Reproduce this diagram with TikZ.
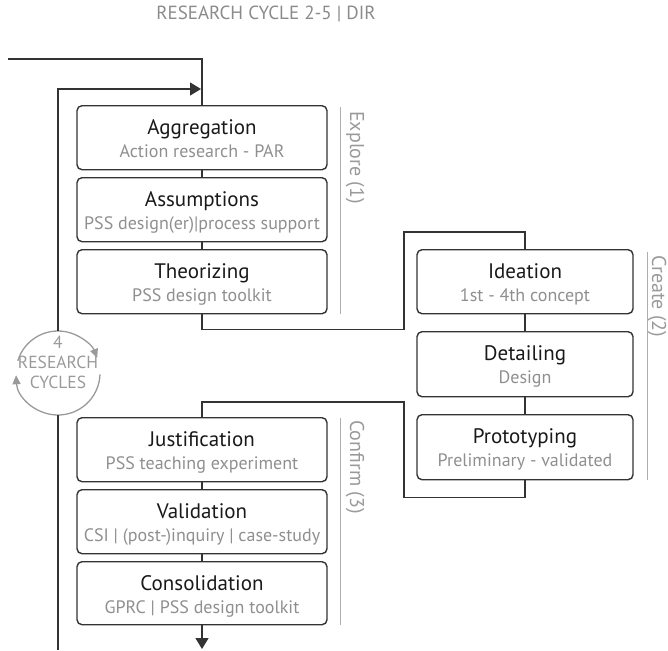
\documentclass[tikz,border=0pt]{standalone}
\usepackage{fontspec}
\setmainfont{PT Sans}
\usetikzlibrary{arrows.meta,calc}
\definecolor{ink}{HTML}{333333}
\definecolor{subgray}{HTML}{8F8F8F}
\definecolor{labgray}{HTML}{9A9A9A}
\newcommand{\mkstage}[7]{% name, x, ytop, height, width, title, subtitle
  \node[stagebox, minimum height=#4pt, minimum width=#5pt, anchor=north] (#1) at (#2,#3) {};
  \node[ttl] (#1t) at ($(#1.north)+(0,29)$) {#6};
  \node[subt] (#1s) at ($(#1.north)+(0,52)$) {#7};
}
\begin{document}
\begin{tikzpicture}[x=1pt,y=-1pt,
  stagebox/.style={draw=ink, line width=1.4pt, rounded corners=5pt, inner sep=0pt},
  ttl/.style={font=\fontsize{21}{24}\selectfont, text=black!90, anchor=base, inner sep=0pt},
  subt/.style={font=\fontsize{18}{20}\selectfont, text=subgray, anchor=base, inner sep=0pt},
  conn/.style={draw=ink, line width=1.4pt},
  arrowed/.style={-{Triangle[length=11pt,width=13pt]}},
  cycarc/.style={draw=labgray, line width=1.3pt, -{Triangle[length=9pt,width=8pt]}},
  phase/.style={font=\fontsize{20}{22}\selectfont, text=labgray, rotate=-90, anchor=west, inner sep=0pt},
  phaseline/.style={draw=labgray!80, line width=1pt}]
\useasboundingbox (0,0) rectangle (668,650);

\node[anchor=base, font=\fontsize{19}{22}\selectfont, text=labgray!90!black, inner sep=0pt] (hdr) at (266,20) {RESEARCH CYCLE 2-5 | DIR};

\mkstage{agg}{202}{105}{64}{250}{Aggregation}{Action research - PAR}
\mkstage{ass}{202}{177}{64}{250}{Assumptions}{PSS design(er)|process support}
\mkstage{theo}{202}{249}{64}{250}{Theorizing}{PSS design toolkit}
\mkstage{idea}{525}{249}{64}{216}{Ideation}{1st - 4th concept}
\mkstage{det}{525}{331}{65}{216}{Detailing}{Design}
\mkstage{proto}{525}{414}{65}{216}{Prototyping}{Preliminary - validated}
\mkstage{just}{202}{417}{64}{250}{Justification}{PSS teaching experiment}
\mkstage{val}{202}{489}{64}{250}{Validation}{CSI | (post-)inquiry | case-study}
\mkstage{cons}{202}{561}{63}{250}{Consolidation}{GPRC | PSS design toolkit}

\draw[conn] (agg.south) -- (ass.north);
\draw[conn] (ass.south) -- (theo.north);
\draw[conn] (idea.south) -- (det.north);
\draw[conn] (det.south) -- (proto.north);
\draw[conn] (just.south) -- (val.north);
\draw[conn] (val.south) -- (cons.north);

\coordinate (k1) at (404,232);
\draw[conn] (theo.south) -- ++(0,15) -| (k1) -| (idea.north);
\coordinate (k2) at (404,402);
\draw[conn] (proto.south) -- ++(0,17) -| (k2) -| (just.north);

\coordinate (k0) at (8,59);
\draw[conn] (k0) -| (agg.north);

\node[circle, minimum size=84pt, inner sep=0pt] (cyc) at (58,373) {};
\node[align=center, text=labgray, font=\fontsize{17.5}{20}\selectfont, inner sep=0pt] (cyct) at (58,362) {4\\RESEARCH\\CYCLES};
\begin{scope}[shift={(cyc.center)}, x=1pt, y=1pt]
  \draw[cycarc] (163:42) arc[start angle=163, end angle=21, radius=42pt];
  \draw[cycarc] (-2:42) arc[start angle=-2, end angle=-177, radius=42pt];
\end{scope}

\coordinate (k3) at (201,89);
\draw[conn, arrowed] (cyc.north) |- (k3);
\coordinate (k4) at (58,650);
\draw[conn] (cyc.south) -- (k4);
\coordinate (k5) at (202,649);
\draw[conn, arrowed] (cons.south) -- (k5);

\draw[phaseline] ($(agg.north east)+(13,2)$) -- ($(theo.south east)+(13,0)$);
\draw[phaseline] ($(idea.north east)+(14,3)$) -- ($(proto.south east)+(14,0)$);
\draw[phaseline] ($(just.north east)+(13,1)$) -- ($(cons.south east)+(13,0)$);

\node[phase] (ph1) at (355,111) {Explore (1)};
\node[phase] (ph2) at (657,255) {Create (2)};
\node[phase] (ph3) at (355,420) {Confirm (3)};
\end{tikzpicture}
\end{document}
